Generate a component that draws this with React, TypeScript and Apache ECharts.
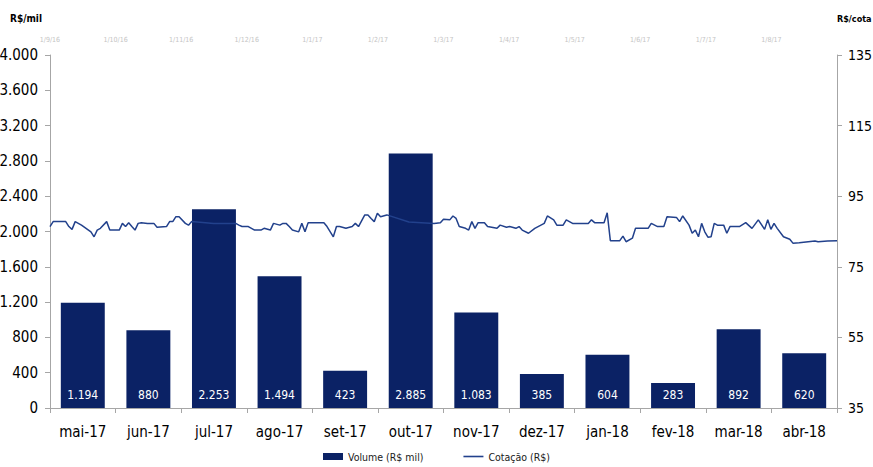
import React, { useEffect, useRef } from "react";
import * as echarts from "echarts";

const months = ["mai-17", "jun-17", "jul-17", "ago-17", "set-17", "out-17", "nov-17", "dez-17", "jan-18", "fev-18", "mar-18", "abr-18"];
const volumes = [1194, 880, 2253, 1494, 423, 2885, 1083, 385, 604, 283, 892, 620];
const topDateLabels = ["1/9/16", "1/10/16", "1/11/16", "1/12/16", "1/1/17", "1/2/17", "1/3/17", "1/4/17", "1/5/17", "1/6/17", "1/7/17", "1/8/17", ""];

// trading-day index (0..250) and quote (R$)
const quoteDays = [
  0, 1, 5, 6, 7, 8, 10, 13, 14, 15, 16, 18, 19, 22, 23, 24, 25, 26, 27, 28, 29, 31, 33, 34, 37, 38, 39, 40, 41, 43, 44, 45,
  52, 59, 60, 61, 63, 65, 67, 68, 70, 71, 73, 74, 75, 76, 77, 79, 80, 81, 82, 87, 88, 90, 91, 92, 94, 96, 97, 98,
  100, 101, 102, 103, 104, 105, 107, 114, 122, 124, 125, 127, 128, 129, 130, 132, 133, 134, 135, 136, 138, 139, 142, 143,
  145, 146, 148, 149, 150, 152, 154, 157, 158, 160, 161, 163, 164, 166, 171, 172, 173, 176, 177, 178, 181, 182, 183, 185,
  186, 190, 191, 193, 195, 196, 199, 200, 201, 203, 204, 205, 206, 207, 208, 209, 210, 211, 212, 214, 215, 216, 219, 221,
  223, 225, 227, 228, 229, 230, 231, 233, 235, 236, 238, 243, 244, 247, 250,
];
const quoteValues = [
  86.4, 87.8, 87.8, 86.4, 85.6, 87.8, 86.8, 84.9, 83.5, 85.4, 85.9, 87.8, 85.4, 85.4, 87.3, 86.4, 87.5, 86.4, 85.4, 87.3, 87.5, 87.3, 87.3, 86.2, 86.4, 87.8, 87.8, 89.2, 89.2, 87.3, 86.8, 87.8,
  87.3, 87.3, 86.8, 86.4, 86.4, 85.4, 85.4, 85.9, 85.4, 87.3, 86.8, 87.3, 87.3, 86.4, 85.4, 84.9, 87.3, 84.9, 87.5, 87.5, 86.4, 83.5, 86.4, 86.4, 85.9, 86.4, 87.3, 86.4,
  89.7, 89.7, 88.7, 87.8, 90.2, 89.2, 89.7, 87.7, 87.3, 87.5, 88.5, 88.3, 89.4, 88.7, 86.4, 85.9, 85.4, 87.8, 85.9, 87.5, 87.5, 86.4, 85.9, 86.8,
  86.2, 86.4, 85.9, 86.4, 85.4, 84.5, 85.9, 87.3, 89.4, 88.3, 86.8, 86.8, 88.3, 87.3, 87.3, 88.3, 87.5, 87.5, 90.3, 82.4, 82.4, 83.7, 82.1, 83.1,
  85.9, 85.9, 87.3, 86.4, 86.4, 89.2, 89.0, 87.8, 89.4, 86.8, 84.5, 85.4, 83.5, 87.3, 84.9, 83.4, 83.5, 87.3, 86.8, 86.8, 84.5, 86.4, 86.4, 87.5,
  85.9, 88.3, 85.6, 88.3, 85.6, 87.3, 85.9, 83.5, 82.8, 81.7, 81.8, 82.3, 82.1, 82.3, 82.4,
];

const FONT = "'DejaVu Sans Condensed', 'DejaVu Sans', sans-serif";
const BAR_COLOR = "#0b2265";
const LINE_COLOR = "#22418c";
const AXIS_COLOR = "#a6a6a6";

const fmt = (v: number) => String(v).replace(/\B(?=(\d{3})+(?!\d))/g, ".");

export default function App() {
  const ref = useRef<HTMLDivElement>(null);
  useEffect(() => {
    if (!ref.current) return;
    const chart = echarts.init(ref.current, undefined, { renderer: "svg" });
    chart.setOption({
      animation: false,
      backgroundColor: "#ffffff",
      textStyle: { fontFamily: FONT },
      grid: { left: 50, right: 36, top: 55, bottom: 59, containLabel: false, outerBoundsMode: "none" },
      legend: {
        bottom: 0,
        left: "center",
        itemWidth: 20,
        itemHeight: 7,
        itemGap: 40,
        textStyle: { fontSize: 10.5, color: "#1a1a1a", fontFamily: FONT },
        data: [
          { name: "Volume (R$ mil)", icon: "rect" },
          { name: "Cotação (R$)", icon: "path://M0,0 L20,0 L20,1.6 L0,1.6 Z" },
        ],
      },
      xAxis: [
        {
          type: "category",
          data: months,
          position: "bottom",
          axisLine: { show: true, lineStyle: { color: AXIS_COLOR } },
          axisTick: { show: true, length: 5, lineStyle: { color: AXIS_COLOR } },
          axisLabel: { fontSize: 15, color: "#000", margin: 16, fontFamily: FONT, interval: 0 },
          splitLine: { show: false },
        },
        {
          type: "value",
          min: 0,
          max: 250,
          show: false,
          position: "top",
        },
        {
          type: "category",
          data: topDateLabels,
          boundaryGap: false,
          position: "top",
          axisLine: { show: false },
          axisTick: { show: false },
          axisLabel: { fontSize: 7, color: "#c4c4c4", margin: 12, interval: 0, fontFamily: FONT },
          splitLine: { show: false },
        },
      ],
      yAxis: [
        {
          type: "value",
          min: 0,
          max: 4000,
          interval: 400,
          name: "R$/mil",
          nameLocation: "end",
          nameGap: 32,
          nameTextStyle: { fontSize: 10, fontWeight: "bold", color: "#000", align: "right", padding: [0, 8, 0, 0], fontFamily: FONT },
          axisLine: { show: true, lineStyle: { color: AXIS_COLOR } },
          axisTick: { show: true, length: 5, lineStyle: { color: AXIS_COLOR } },
          axisLabel: { fontSize: 15, color: "#000", margin: 12, formatter: (v: number) => fmt(v), fontFamily: FONT },
          splitLine: { show: false },
        },
        {
          type: "value",
          min: 35,
          max: 135,
          interval: 20,
          position: "right",
          name: "R$/cota",
          nameLocation: "end",
          nameGap: 32,
          nameTextStyle: { fontSize: 9, fontWeight: "bold", color: "#000", align: "left", padding: [0, 0, 0, 0], fontFamily: FONT },
          axisLine: { show: true, lineStyle: { color: AXIS_COLOR } },
          axisTick: { show: true, length: 5, lineStyle: { color: AXIS_COLOR } },
          axisLabel: { fontSize: 14, color: "#000", margin: 11, fontFamily: FONT },
          splitLine: { show: false },
        },
      ],
      series: [
        {
          name: "Volume (R$ mil)",
          type: "bar",
          xAxisIndex: 0,
          yAxisIndex: 0,
          data: volumes,
          barWidth: "67%",
          itemStyle: { color: BAR_COLOR },
          label: {
            show: true,
            position: "insideBottom",
            distance: 7,
            color: "#ffffff",
            fontSize: 12,
            fontFamily: FONT,
            formatter: (p: any) => fmt(p.value),
          },
          z: 2,
        },
        {
          name: "Cotação (R$)",
          type: "line",
          xAxisIndex: 1,
          yAxisIndex: 1,
          data: quoteDays.map((d, i) => [d, quoteValues[i]]),
          showSymbol: false,
          symbol: "none",
          lineStyle: { color: LINE_COLOR, width: 1.5 },
          itemStyle: { color: LINE_COLOR },
          z: 3,
        },
      ],
    });
    return () => chart.dispose();
  }, []);
  return <div ref={ref} style={{ position: "fixed", left: 0, top: 0, width: 873, height: 467 }} />;
}
